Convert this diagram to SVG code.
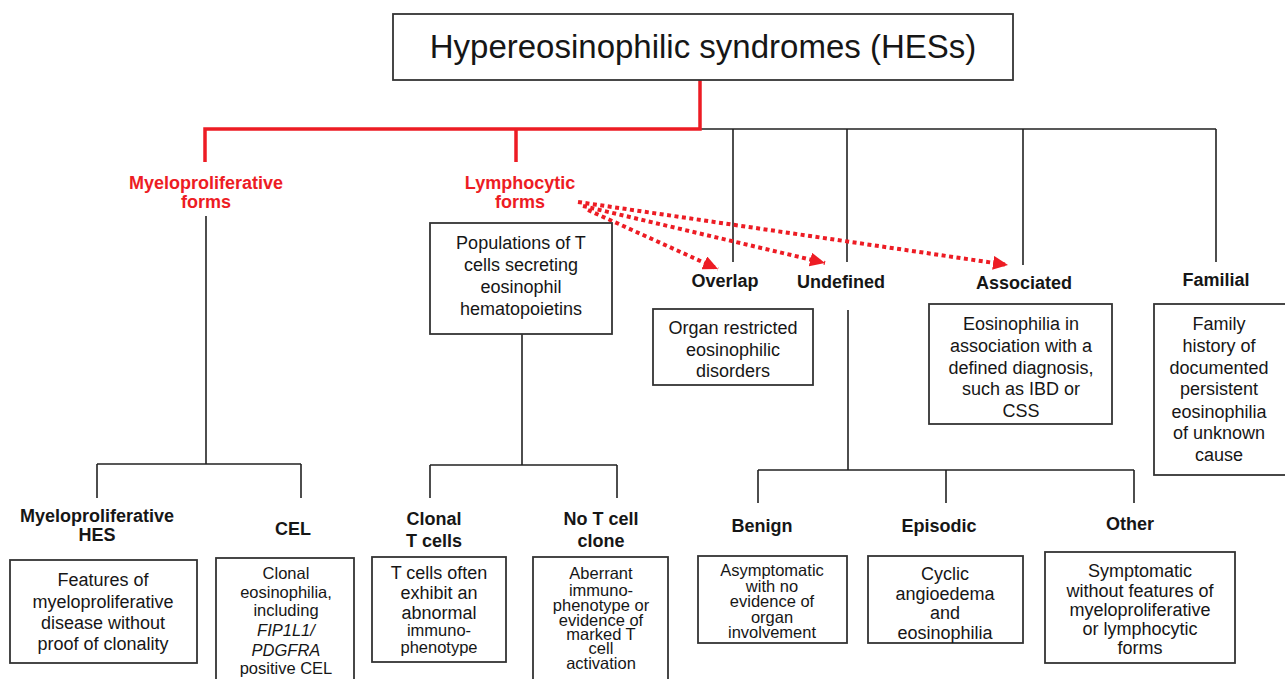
<svg xmlns="http://www.w3.org/2000/svg" width="1285" height="679" viewBox="0 0 1285 679">
<style>
.box{fill:#fff;stroke:#333;stroke-width:1.8}
.t{font-family:"Liberation Sans",Arial,sans-serif;font-size:18px;text-anchor:middle;fill:#161616}
.s{font-size:16.5px}
.b{font-weight:bold}
.red{fill:#ed1c24}
.i{font-style:italic}
.ln{stroke:#222;stroke-width:1.6;fill:none}
.rl{stroke:#ed1c24;stroke-width:3.5;fill:none}
.dot{stroke:#ed1c24;stroke-width:4;stroke-dasharray:4 3.5;fill:none}
</style>
<defs>
<marker id="ah" markerUnits="userSpaceOnUse" markerWidth="16" markerHeight="14" refX="15" refY="7" orient="auto">
<path d="M0,0 L15,7 L0,14 Z" fill="#ed1c24"/>
</marker>
</defs>
<rect width="1285" height="679" fill="#fff"/>
<g id="connectors">
<path class="ln" d="M700,129 H1216 M733,129 V262 M847,129 V262 M1023,129 V265 M1216,129 V262"/>
<path class="rl" d="M700,80 V129 H205 V162 M516,129 V162"/>
<path class="ln" d="M206,216 V464 M97,464 H301 M97,464 V498 M301,464 V498"/>
<path class="ln" d="M522,334 V465 M430,465 H617 M430,465 V498 M617,465 V498"/>
<path class="ln" d="M848,310 V470 M758,470 H1134 M758,470 V503 M946,470 V503 M1134,470 V503"/>
<path class="dot" d="M588,210 L718,269" marker-end="url(#ah)"/>
<path class="dot" d="M583,206 L825,263" marker-end="url(#ah)"/>
<path class="dot" d="M578,202 L1008,265" marker-end="url(#ah)"/>
</g>
<g id="root">
<rect class="box" x="393" y="14" width="620" height="66"/>
<text class="t" x="703" y="58" style="font-size:33px">Hypereosinophilic syndromes (HESs)</text>
</g>
<g id="myelo">
<text class="t b red" x="206" y="189">Myeloproliferative</text>
<text class="t b red" x="206" y="208">forms</text>
</g>
<g id="lympho">
<text class="t b red" x="520" y="189">Lymphocytic</text>
<text class="t b red" x="520" y="208">forms</text>
</g>
<g id="populations">
<rect class="box" x="430" y="223" width="182" height="111"/>
<text class="t" x="521" y="249">Populations of T</text>
<text class="t" x="521" y="271">cells secreting</text>
<text class="t" x="521" y="293">eosinophil</text>
<text class="t" x="521" y="315">hematopoietins</text>
</g>
<g id="overlap">
<text class="t b" x="725" y="287">Overlap</text>
<rect class="box" x="653" y="309" width="160" height="76"/>
<text class="t" x="733" y="334">Organ restricted</text>
<text class="t" x="733" y="356">eosinophilic</text>
<text class="t" x="733" y="377">disorders</text>
</g>
<g id="undefined">
<text class="t b" x="841" y="288">Undefined</text>
</g>
<g id="associated">
<text class="t b" x="1024" y="289">Associated</text>
<rect class="box" x="929" y="304" width="183" height="120"/>
<text class="t" x="1021" y="330">Eosinophilia in</text>
<text class="t" x="1021" y="352">association with a</text>
<text class="t" x="1021" y="374">defined diagnosis,</text>
<text class="t" x="1021" y="395">such as IBD or</text>
<text class="t" x="1021" y="417">CSS</text>
</g>
<g id="familial">
<text class="t b" x="1216" y="286">Familial</text>
<rect class="box" x="1154" y="304" width="140" height="171"/>
<text class="t" x="1219" y="330">Family</text>
<text class="t" x="1219" y="352">history of</text>
<text class="t" x="1219" y="374">documented</text>
<text class="t" x="1219" y="395">persistent</text>
<text class="t" x="1219" y="418">eosinophilia</text>
<text class="t" x="1219" y="439">of unknown</text>
<text class="t" x="1219" y="461">cause</text>
</g>
<g id="mhes">
<text class="t b" x="97" y="522">Myeloproliferative</text>
<text class="t b" x="97" y="541">HES</text>
<rect class="box" x="10" y="560" width="187" height="103"/>
<text class="t" x="103" y="586">Features of</text>
<text class="t" x="103" y="608">myeloproliferative</text>
<text class="t" x="103" y="629">disease without</text>
<text class="t" x="103" y="650">proof of clonality</text>
</g>
<g id="cel">
<text class="t b" x="293" y="535">CEL</text>
<rect class="box" x="216" y="558" width="138" height="140"/>
<text class="t s" x="286" y="579">Clonal</text>
<text class="t s" x="286" y="598">eosinophilia,</text>
<text class="t s" x="286" y="616">including</text>
<text class="t s i" x="286" y="636">FIP1L1/</text>
<text class="t s i" x="286" y="656">PDGFRA</text>
<text class="t s" x="286" y="674">positive CEL</text>
</g>
<g id="clonal">
<text class="t b" x="434" y="525">Clonal</text>
<text class="t b" x="434" y="547">T cells</text>
<rect class="box" x="372" y="557" width="134" height="105"/>
<text class="t" x="439" y="579">T cells often</text>
<text class="t" x="439" y="599">exhibit an</text>
<text class="t" x="439" y="619">abnormal</text>
<text class="t s" x="439" y="636">immuno-</text>
<text class="t s" x="439" y="653">phenotype</text>
</g>
<g id="noclone">
<text class="t b" x="601" y="525">No T cell</text>
<text class="t b" x="601" y="547">clone</text>
<rect class="box" x="533" y="557" width="135" height="140"/>
<text class="t s" x="601" y="579">Aberrant</text>
<text class="t s" x="601" y="596">immuno-</text>
<text class="t s" x="601" y="611">phenotype or</text>
<text class="t s" x="601" y="626">evidence of</text>
<text class="t s" x="601" y="640">marked T</text>
<text class="t s" x="601" y="654">cell</text>
<text class="t s" x="601" y="669">activation</text>
</g>
<g id="benign">
<text class="t b" x="762" y="532">Benign</text>
<rect class="box" x="698" y="556" width="149" height="87"/>
<text class="t s" x="772" y="576">Asymptomatic</text>
<text class="t s" x="772" y="592">with no</text>
<text class="t s" x="772" y="607">evidence of</text>
<text class="t s" x="772" y="623">organ</text>
<text class="t s" x="772" y="638">involvement</text>
</g>
<g id="episodic">
<text class="t b" x="939" y="532">Episodic</text>
<rect class="box" x="868" y="556" width="155" height="87"/>
<text class="t" x="945" y="580">Cyclic</text>
<text class="t" x="945" y="600">angioedema</text>
<text class="t" x="945" y="619">and</text>
<text class="t" x="945" y="639">eosinophilia</text>
</g>
<g id="other">
<text class="t b" x="1130" y="530">Other</text>
<rect class="box" x="1045" y="552" width="190" height="111"/>
<text class="t" x="1140" y="577">Symptomatic</text>
<text class="t" x="1140" y="597">without features of</text>
<text class="t" x="1140" y="616">myeloproliferative</text>
<text class="t" x="1140" y="635">or lymphocytic</text>
<text class="t" x="1140" y="654">forms</text>
</g>
</svg>
